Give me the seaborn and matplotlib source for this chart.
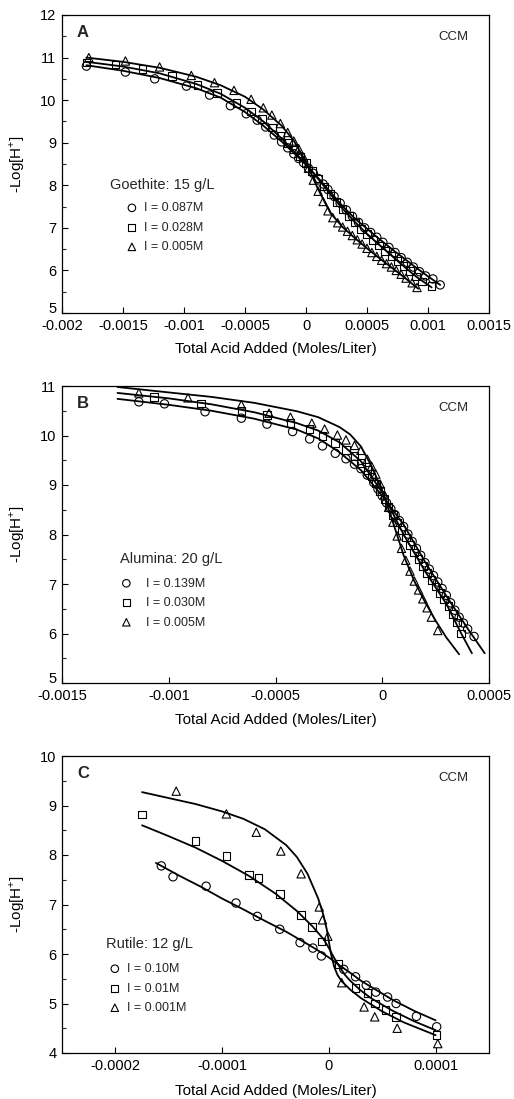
import numpy as np
import matplotlib
matplotlib.use("Agg")
import matplotlib.pyplot as plt
import seaborn as sns
from matplotlib.ticker import FixedLocator, FixedFormatter, MultipleLocator
from matplotlib.transforms import ScaledTranslation

sns.set_theme(style="ticks")
plt.rcParams['font.family'] = ['Liberation Sans', 'DejaVu Sans']
plt.rcParams['mathtext.fontset'] = 'custom'
plt.rcParams['mathtext.rm'] = 'Liberation Sans'
plt.rcParams['axes.unicode_minus'] = False

# ---------------- Panel A : Goethite 15 g/L ----------------
a_titles = ["A", "Goethite: 15 g/L"]
a_labels = ["I = 0.087M", "I = 0.028M", "I = 0.005M"]
a_xticks = [-0.002, -0.0015, -0.001, -0.0005, 0, 0.0005, 0.001, 0.0015]
a_xticklabels = ["-0.002", "-0.0015", "-0.001", "-0.0005", "0", "0.0005", "0.001", "0.0015"]
a_yticks = [5, 6, 7, 8, 9, 10, 11, 12]

a1_x = [-1.80e-3, -1.48e-3, -1.24e-3, -0.98e-3, -0.79e-3, -0.62e-3, -0.49e-3, -0.40e-3, -0.33e-3, -0.26e-3,
        -0.20e-3, -0.15e-3, -0.10e-3, -0.06e-3, -0.02e-3, 0.02e-3, 0.06e-3, 0.10e-3, 0.14e-3, 0.18e-3,
        0.23e-3, 0.28e-3, 0.33e-3, 0.38e-3, 0.43e-3, 0.48e-3, 0.53e-3, 0.58e-3, 0.63e-3, 0.68e-3,
        0.73e-3, 0.78e-3, 0.83e-3, 0.88e-3, 0.93e-3, 0.98e-3, 1.04e-3, 1.10e-3]
a1_y = [10.80, 10.66, 10.50, 10.33, 10.12, 9.87, 9.68, 9.53, 9.37, 9.18,
        9.02, 8.88, 8.74, 8.63, 8.53, 8.40, 8.28, 8.16, 8.03, 7.90,
        7.74, 7.58, 7.42, 7.27, 7.13, 7.00, 6.89, 6.78, 6.66, 6.54,
        6.42, 6.30, 6.19, 6.08, 5.97, 5.87, 5.80, 5.66]
a1_fx = [-1.80e-3, -1.50e-3, -1.20e-3, -0.90e-3, -0.70e-3, -0.50e-3, -0.35e-3, -0.20e-3, -0.10e-3, 0.0,
         0.10e-3, 0.20e-3, 0.30e-3, 0.40e-3, 0.50e-3, 0.60e-3, 0.70e-3, 0.80e-3, 0.90e-3, 1.00e-3, 1.10e-3]
a1_fy = [10.82, 10.69, 10.52, 10.28, 10.06, 9.72, 9.40, 9.03, 8.76, 8.48,
         8.17, 7.84, 7.51, 7.22, 6.98, 6.74, 6.51, 6.29, 6.07, 5.86, 5.66]

a2_x = [-1.80e-3, -1.56e-3, -1.34e-3, -1.10e-3, -0.89e-3, -0.73e-3, -0.57e-3, -0.45e-3, -0.36e-3, -0.28e-3,
        -0.21e-3, -0.15e-3, -0.10e-3, -0.05e-3, 0.0, 0.05e-3, 0.10e-3, 0.15e-3, 0.20e-3, 0.25e-3,
        0.30e-3, 0.35e-3, 0.40e-3, 0.45e-3, 0.50e-3, 0.55e-3, 0.60e-3, 0.65e-3, 0.70e-3, 0.75e-3,
        0.80e-3, 0.85e-3, 0.90e-3, 0.95e-3, 1.03e-3]
a2_y = [10.88, 10.84, 10.73, 10.56, 10.35, 10.17, 9.94, 9.73, 9.55, 9.36,
        9.17, 9.00, 8.84, 8.68, 8.52, 8.34, 8.16, 7.97, 7.79, 7.61,
        7.44, 7.28, 7.13, 6.98, 6.85, 6.72, 6.59, 6.46, 6.34, 6.22,
        6.10, 5.98, 5.86, 5.74, 5.63]
a2_fx = [-1.80e-3, -1.50e-3, -1.20e-3, -0.90e-3, -0.70e-3, -0.50e-3, -0.35e-3, -0.20e-3, -0.10e-3, 0.0,
         0.10e-3, 0.20e-3, 0.30e-3, 0.40e-3, 0.50e-3, 0.60e-3, 0.70e-3, 0.80e-3, 0.90e-3, 1.03e-3]
a2_fy = [10.90, 10.79, 10.63, 10.38, 10.15, 9.82, 9.50, 9.10, 8.80, 8.50,
         8.15, 7.79, 7.45, 7.14, 6.86, 6.60, 6.35, 6.10, 5.86, 5.60]

a3_x = [-1.78e-3, -1.48e-3, -1.20e-3, -0.94e-3, -0.75e-3, -0.59e-3, -0.45e-3, -0.35e-3, -0.28e-3, -0.21e-3,
        -0.15e-3, -0.10e-3, -0.06e-3, -0.02e-3, 0.02e-3, 0.06e-3, 0.10e-3, 0.14e-3, 0.18e-3, 0.22e-3,
        0.26e-3, 0.30e-3, 0.34e-3, 0.38e-3, 0.42e-3, 0.46e-3, 0.50e-3, 0.54e-3, 0.58e-3, 0.62e-3,
        0.66e-3, 0.70e-3, 0.74e-3, 0.78e-3, 0.82e-3, 0.87e-3, 0.91e-3]
a3_y = [11.00, 10.92, 10.78, 10.58, 10.41, 10.23, 10.02, 9.82, 9.65, 9.45,
        9.24, 9.04, 8.86, 8.66, 8.40, 8.12, 7.86, 7.62, 7.40, 7.24,
        7.12, 7.02, 6.92, 6.82, 6.72, 6.62, 6.52, 6.42, 6.33, 6.24,
        6.16, 6.08, 6.00, 5.91, 5.82, 5.71, 5.60]
a3_fx = [-1.80e-3, -1.50e-3, -1.20e-3, -0.90e-3, -0.70e-3, -0.50e-3, -0.35e-3, -0.20e-3, -0.10e-3, 0.0,
         0.10e-3, 0.20e-3, 0.30e-3, 0.40e-3, 0.50e-3, 0.60e-3, 0.70e-3, 0.80e-3, 0.92e-3]
a3_fy = [11.00, 10.90, 10.76, 10.55, 10.35, 10.08, 9.78, 9.40, 9.05, 8.55,
         7.90, 7.35, 7.02, 6.76, 6.52, 6.29, 6.07, 5.85, 5.57]

# ---------------- Panel B : Alumina 20 g/L ----------------
b_titles = ["B", "Alumina: 20 g/L"]
b_labels = ["I = 0.139M", "I = 0.030M", "I = 0.005M"]
b_xticks = [-0.0015, -0.001, -0.0005, 0, 0.0005]
b_xticklabels = ["-0.0015", "-0.001", "-0.0005", "0", "0.0005"]
b_yticks = [5, 6, 7, 8, 9, 10, 11]

b1_x = [-1.14e-3, -1.02e-3, -0.83e-3, -0.66e-3, -0.54e-3, -0.42e-3, -0.34e-3, -0.28e-3, -0.22e-3, -0.17e-3,
        -0.13e-3, -0.10e-3, -0.07e-3, -0.04e-3, -0.02e-3, 0.0, 0.02e-3, 0.04e-3, 0.06e-3, 0.08e-3,
        0.10e-3, 0.12e-3, 0.14e-3, 0.16e-3, 0.18e-3, 0.20e-3, 0.22e-3, 0.24e-3, 0.26e-3, 0.28e-3,
        0.30e-3, 0.32e-3, 0.34e-3, 0.36e-3, 0.38e-3, 0.40e-3, 0.43e-3]
b1_y = [10.68, 10.64, 10.48, 10.35, 10.23, 10.08, 9.93, 9.79, 9.64, 9.53,
        9.42, 9.33, 9.20, 9.05, 8.92, 8.78, 8.64, 8.52, 8.40, 8.28,
        8.16, 8.01, 7.86, 7.72, 7.58, 7.43, 7.30, 7.17, 7.04, 6.91,
        6.77, 6.62, 6.47, 6.33, 6.21, 6.09, 5.94]
b1_fx = [-1.24e-3, -1.00e-3, -0.80e-3, -0.60e-3, -0.40e-3, -0.30e-3, -0.20e-3, -0.10e-3, 0.0,
         0.10e-3, 0.20e-3, 0.30e-3, 0.40e-3, 0.48e-3]
b1_fy = [10.74, 10.62, 10.50, 10.34, 10.12, 9.94, 9.66, 9.30, 8.78,
         8.20, 7.45, 6.76, 6.10, 5.60]

b2_x = [-1.07e-3, -0.85e-3, -0.66e-3, -0.54e-3, -0.43e-3, -0.34e-3, -0.28e-3, -0.22e-3, -0.17e-3, -0.13e-3,
        -0.10e-3, -0.07e-3, -0.05e-3, -0.03e-3, -0.01e-3, 0.01e-3, 0.03e-3, 0.05e-3, 0.07e-3, 0.09e-3,
        0.11e-3, 0.13e-3, 0.15e-3, 0.17e-3, 0.19e-3, 0.21e-3, 0.23e-3, 0.25e-3, 0.27e-3, 0.29e-3,
        0.31e-3, 0.33e-3, 0.35e-3, 0.37e-3]
b2_y = [10.78, 10.65, 10.50, 10.41, 10.25, 10.13, 9.99, 9.85, 9.71, 9.58,
        9.45, 9.30, 9.17, 9.03, 8.88, 8.72, 8.56, 8.40, 8.24, 8.09,
        7.94, 7.79, 7.64, 7.50, 7.36, 7.22, 7.08, 6.95, 6.82, 6.69,
        6.55, 6.40, 6.22, 6.00]
b2_fx = [-1.24e-3, -1.00e-3, -0.80e-3, -0.60e-3, -0.40e-3, -0.30e-3, -0.20e-3, -0.10e-3, 0.0,
         0.10e-3, 0.20e-3, 0.30e-3, 0.37e-3, 0.42e-3]
b2_fy = [10.86, 10.75, 10.63, 10.47, 10.25, 10.10, 9.86, 9.48, 8.85,
         8.00, 7.26, 6.60, 6.00, 5.60]

b3_x = [-1.14e-3, -0.91e-3, -0.66e-3, -0.53e-3, -0.43e-3, -0.33e-3, -0.27e-3, -0.21e-3, -0.17e-3, -0.13e-3,
        -0.10e-3, -0.07e-3, -0.05e-3, -0.03e-3, -0.01e-3, 0.01e-3, 0.03e-3, 0.05e-3, 0.07e-3, 0.09e-3,
        0.11e-3, 0.13e-3, 0.15e-3, 0.17e-3, 0.19e-3, 0.21e-3, 0.23e-3, 0.26e-3]
b3_y = [10.86, 10.76, 10.62, 10.45, 10.37, 10.25, 10.13, 10.01, 9.91, 9.80,
        9.70, 9.52, 9.38, 9.22, 9.02, 8.80, 8.55, 8.25, 7.97, 7.72,
        7.48, 7.26, 7.06, 6.88, 6.70, 6.52, 6.33, 6.06]
b3_fx = [-1.24e-3, -1.00e-3, -0.80e-3, -0.60e-3, -0.40e-3, -0.30e-3, -0.20e-3, -0.15e-3, -0.10e-3,
         -0.05e-3, 0.0, 0.05e-3, 0.10e-3, 0.15e-3, 0.20e-3, 0.25e-3, 0.30e-3, 0.36e-3]
b3_fy = [10.98, 10.87, 10.78, 10.66, 10.49, 10.37, 10.17, 10.02, 9.78,
         9.38, 8.88, 8.25, 7.58, 7.06, 6.64, 6.26, 5.92, 5.58]

# ---------------- Panel C : Rutile 12 g/L ----------------
c_titles = ["C", "Rutile: 12 g/L"]
c_labels = ["I = 0.10M", "I = 0.01M", "I = 0.001M"]
c_xticks = [-0.0002, -0.0001, 0, 0.0001]
c_xticklabels = ["-0.0002", "-0.0001", "0", "0.0001"]
c_yticks = [4, 5, 6, 7, 8, 9, 10]

c1_x = [-1.57e-4, -1.46e-4, -1.15e-4, -0.87e-4, -0.67e-4, -0.46e-4, -0.27e-4, -0.15e-4, -0.07e-4,
        0.14e-4, 0.25e-4, 0.35e-4, 0.44e-4, 0.55e-4, 0.63e-4, 0.82e-4, 1.01e-4]
c1_y = [7.78, 7.56, 7.37, 7.03, 6.76, 6.50, 6.23, 6.12, 5.96,
        5.69, 5.54, 5.37, 5.23, 5.13, 5.00, 4.74, 4.53]
c1_fx = [-1.62e-4, -1.40e-4, -1.20e-4, -1.00e-4, -0.80e-4, -0.60e-4, -0.40e-4, -0.20e-4, -0.10e-4, 0.0,
         0.05e-4, 0.10e-4, 0.20e-4, 0.30e-4, 0.40e-4, 0.60e-4, 0.80e-4, 1.00e-4]
c1_fy = [7.84, 7.58, 7.36, 7.12, 6.90, 6.67, 6.45, 6.20, 6.07, 5.93,
         5.85, 5.77, 5.62, 5.46, 5.33, 5.07, 4.85, 4.66]

c2_x = [-1.75e-4, -1.25e-4, -0.96e-4, -0.75e-4, -0.66e-4, -0.46e-4, -0.26e-4, -0.16e-4, -0.07e-4,
        0.09e-4, 0.25e-4, 0.36e-4, 0.43e-4, 0.53e-4, 0.63e-4, 1.01e-4]
c2_y = [8.82, 8.28, 7.98, 7.60, 7.53, 7.21, 6.79, 6.55, 6.25,
        5.80, 5.31, 5.21, 5.00, 4.87, 4.73, 4.36]
c2_fx = [-1.75e-4, -1.50e-4, -1.25e-4, -1.00e-4, -0.75e-4, -0.50e-4, -0.30e-4, -0.15e-4, -0.05e-4, 0.0,
         0.05e-4, 0.10e-4, 0.15e-4, 0.20e-4, 0.30e-4, 0.40e-4, 0.60e-4, 0.80e-4, 1.00e-4]
c2_fy = [8.60, 8.38, 8.15, 7.88, 7.58, 7.22, 6.87, 6.55, 6.30, 6.12,
         5.92, 5.74, 5.58, 5.46, 5.26, 5.10, 4.85, 4.64, 4.46]

c3_x = [-1.43e-4, -0.96e-4, -0.68e-4, -0.45e-4, -0.26e-4, -0.09e-4, -0.06e-4, -0.01e-4,
        0.12e-4, 0.33e-4, 0.43e-4, 0.64e-4, 1.02e-4]
c3_y = [9.29, 8.83, 8.46, 8.08, 7.62, 6.95, 6.69, 6.36,
        5.42, 4.93, 4.73, 4.50, 4.19]
c3_fx = [-1.75e-4, -1.50e-4, -1.25e-4, -1.00e-4, -0.80e-4, -0.60e-4, -0.40e-4, -0.30e-4, -0.20e-4,
         -0.10e-4, -0.05e-4, -0.02e-4, 0.0, 0.02e-4, 0.05e-4, 0.08e-4, 0.12e-4, 0.20e-4, 0.30e-4,
         0.50e-4, 0.70e-4, 1.00e-4]
c3_fy = [9.27, 9.15, 9.03, 8.88, 8.73, 8.52, 8.20, 7.96, 7.62,
         7.12, 6.78, 6.50, 6.25, 6.00, 5.74, 5.58, 5.45, 5.28, 5.11,
         4.84, 4.62, 4.36]

markers = ["o", "s", "^"]
x_label = "Total Acid Added (Moles/Liter)"
y_label = "-Log[H$^{+}$]"
model_tag = "CCM"

W, H = 514, 1099
fig = plt.figure(figsize=(W / 100, H / 100), dpi=100)

def px_rect(l, t, r, b):
    return [l / W, 1 - b / H, (r - l) / W, (b - t) / H]

panels = [
    dict(rect=px_rect(62, 15, 489, 313), xlim=(-0.002, 0.0015), ylim=(5, 12),
         xt=a_xticks, xtl=a_xticklabels, yt=a_yticks, titles=a_titles, labels=a_labels,
         pts=[(a1_x, a1_y), (a2_x, a2_y), (a3_x, a3_y)],
         fits=[(a1_fx, a1_fy), (a2_fx, a2_fy), (a3_fx, a3_fy)],
         title_pos=(0.112, 0.43), leg_pos=(0.152, 0.372), tpad=0.55, xlab_y=-0.097),
    dict(rect=px_rect(62, 386, 489, 683), xlim=(-0.0015, 0.0005), ylim=(5, 11),
         xt=b_xticks, xtl=b_xticklabels, yt=b_yticks, titles=b_titles, labels=b_labels,
         pts=[(b1_x, b1_y), (b2_x, b2_y), (b3_x, b3_y)],
         fits=[(b1_fx, b1_fy), (b2_fx, b2_fy), (b3_fx, b3_fy)],
         title_pos=(0.136, 0.418), leg_pos=(0.139, 0.355), tpad=1.2, xlab_y=-0.100),
    dict(rect=px_rect(62, 756, 489, 1053), xlim=(-0.00025, 0.00015), ylim=(4, 10),
         xt=c_xticks, xtl=c_xticklabels, yt=c_yticks, titles=c_titles, labels=c_labels,
         pts=[(c1_x, c1_y), (c2_x, c2_y), (c3_x, c3_y)],
         fits=[(c1_fx, c1_fy), (c2_fx, c2_fy), (c3_fx, c3_fy)],
         title_pos=(0.103, 0.368), leg_pos=(0.112, 0.303), tpad=0.55, xlab_y=-0.105),
]

for i, p in enumerate(panels):
    ax = fig.add_axes(p["rect"])
    for (fx, fy) in p["fits"]:
        sns.lineplot(x=fx, y=fy, ax=ax, color="black", linewidth=1.3, sort=False,
                     estimator=None, legend=False)
    for (px, py), m, lab in zip(p["pts"], markers, p["labels"]):
        sns.scatterplot(x=px, y=py, ax=ax, marker=m, s=36 if m != "s" else 30,
                        facecolors="none", edgecolor="black", linewidth=0.8,
                        label=lab, zorder=3)
    ax.set_xlim(*p["xlim"])
    ax.set_ylim(*p["ylim"])
    ax.xaxis.set_major_locator(FixedLocator(p["xt"]))
    ax.xaxis.set_major_formatter(FixedFormatter(p["xtl"]))
    ax.yaxis.set_major_locator(FixedLocator(p["yt"]))
    ax.yaxis.set_major_formatter(FixedFormatter([str(v) for v in p["yt"]]))
    ax.yaxis.set_minor_locator(MultipleLocator(0.5))
    ax.tick_params(axis="both", which="major", direction="in", length=4.5, width=0.8,
                   labelsize=10.5, colors="black", pad=4)
    ax.tick_params(axis="y", which="minor", direction="in", length=3, width=0.8)
    ax.tick_params(top=False, right=False)
    for sp in ax.spines.values():
        sp.set_visible(True)
        sp.set_linewidth(0.9)
        sp.set_color("black")
    ax.set_facecolor("white")
    ax.set_xlabel(x_label, fontsize=11, color="black")
    ax.set_ylabel(y_label, fontsize=11, color="black")
    ax.xaxis.set_label_coords(0.5, p["xlab_y"])
    ax.yaxis.set_label_coords(-0.082, 0.5)
    # lift the lowest y tick label a little, as in the original (avoids clash with x labels)
    if i < 2:
        t0 = ax.yaxis.get_major_ticks()[0]
        t0.label1.set_transform(t0.label1.get_transform() +
                                ScaledTranslation(0, 4 / 72, fig.dpi_scale_trans))
    ax.text(0.035, 0.965, p["titles"][0], transform=ax.transAxes, fontsize=12,
            fontweight="bold", ha="left", va="top")
    ax.text(0.952, 0.945, model_tag, transform=ax.transAxes, fontsize=9.5,
            ha="right", va="top")
    ax.text(p["title_pos"][0], p["title_pos"][1], p["titles"][1], transform=ax.transAxes,
            fontsize=10.5, ha="left", va="center")
    ax.legend(loc="upper left", bbox_to_anchor=p["leg_pos"], frameon=False, fontsize=9,
              handlelength=0.8, handletextpad=p["tpad"], labelspacing=0.6,
              borderpad=0, borderaxespad=0, markerscale=0.9)

fig.savefig("out.png", dpi=100, facecolor="white")
